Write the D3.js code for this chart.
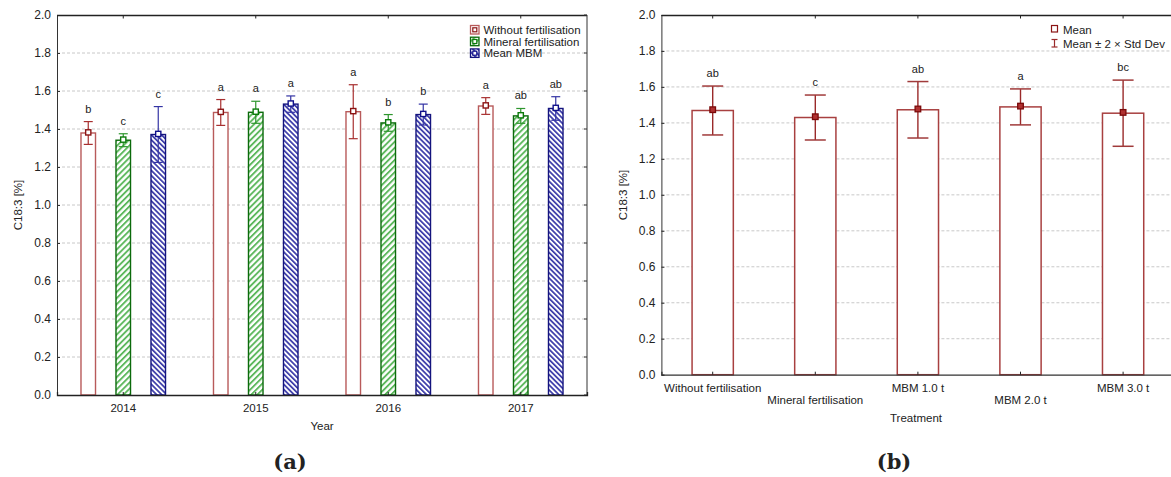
<!DOCTYPE html>
<html>
<head>
<meta charset="utf-8">
<script src="https://cdn.jsdelivr.net/npm/d3@7"></script>
<style>
  html, body { margin: 0; padding: 0; background: #fff; }
  svg { display: block; }
  text { font-family: "Liberation Sans", Arial, sans-serif; fill: #222; }
</style>
</head>
<body>
<svg id="chart" width="1171" height="477"></svg>
<script>
// ---------- Data (panel a) ----------
const years = ["2014", "2015", "2016", "2017"];
const seriesNames = ["Without fertilisation", "Mineral fertilisation", "Mean MBM"];
const meanWithout = [1.379, 1.487, 1.491, 1.521];
const errWithout  = [0.060, 0.068, 0.142, 0.044];
const meanMineral = [1.341, 1.488, 1.432, 1.469];
const errMineral  = [0.034, 0.058, 0.044, 0.039];
const meanMBM     = [1.371, 1.531, 1.476, 1.508];
const errMBM      = [0.147, 0.043, 0.055, 0.062];
const lettersWithout = ["b", "a", "a", "a"];
const lettersMineral = ["c", "a", "b", "ab"];
const lettersMBM     = ["c", "a", "b", "ab"];

// ---------- Data (panel b) ----------
const treatments = ["Without fertilisation", "Mineral fertilisation", "MBM 1.0 t", "MBM 2.0 t", "MBM 3.0 t"];
const treatMeans = [1.469, 1.430, 1.473, 1.489, 1.454];
const treatTwoSD = [0.136, 0.125, 0.157, 0.100, 0.184];
const treatLetters = ["ab", "c", "ab", "a", "bc"];

const yTicks = [0, 0.2, 0.4, 0.6, 0.8, 1.0, 1.2, 1.4, 1.6, 1.8, 2.0];

const svg = d3.select("#chart");
const defs = svg.append("defs");

// hatch patterns
function hatch(id, angle, period, stripe, color) {
  const p = defs.append("pattern")
    .attr("id", id).attr("patternUnits", "userSpaceOnUse")
    .attr("width", period).attr("height", period)
    .attr("patternTransform", `rotate(${angle})`);
  p.append("rect").attr("width", period).attr("height", period).attr("fill", "#fff");
  p.append("rect").attr("width", stripe).attr("height", period).attr("fill", color);
}
hatch("hGreen", 45, 4.3, 1.9, "#5db85d");
hatch("hBlue", -45, 3.6, 1.7, "#3a3aa8");

const seriesStyle = [
  { fill: "#fff", stroke: "#b85a5a", dark: "#8b1414", err: "#a83030" },
  { fill: "url(#hGreen)", stroke: "#0b6a0b", dark: "#0b7a0b", err: "#2e962e" },
  { fill: "url(#hBlue)", stroke: "#14147e", dark: "#10108a", err: "#3434a4" }
];

const gridColor = "#c8c8c8";
const axisColor = "#333";

function frame(g, x0, x1, y, showRight) {
  // gridlines
  g.append("g").selectAll("line").data(yTicks.filter(t => t > 0 && t < 2)).join("line")
    .attr("x1", x0).attr("x2", x1)
    .attr("y1", d => y(d)).attr("y2", d => y(d))
    .attr("stroke", gridColor).attr("stroke-width", 1).attr("stroke-dasharray", "3,2");
}

function axesDraw(g, x0, x1, y, x, cats, showRight) {
  const yTop = y(2), yBot = y(0);
  // y axis
  const ya = d3.axisLeft(y).tickValues(yTicks).tickFormat(d3.format(".1f")).tickSize(-3).tickPadding(6);
  const gy = g.append("g").attr("transform", `translate(${x0},0)`).call(ya);
  gy.select(".domain").attr("stroke", axisColor);
  gy.selectAll(".tick line").attr("stroke", axisColor);
  gy.selectAll("text").style("font-size", "12px").attr("fill", "#222");
  // top line
  g.append("line").attr("x1", x0).attr("x2", x1).attr("y1", yTop + 0.5).attr("y2", yTop + 0.5)
    .attr("stroke", "#222").attr("stroke-width", 1.3);
  // top ticks
  g.append("g").selectAll("line").data(cats).join("line")
    .attr("x1", d => x(d) + x.bandwidth() / 2).attr("x2", d => x(d) + x.bandwidth() / 2)
    .attr("y1", yTop).attr("y2", yTop + 3.5).attr("stroke", "#222");
  if (showRight) {
    g.append("line").attr("x1", x1).attr("x2", x1).attr("y1", yTop).attr("y2", yBot)
      .attr("stroke", axisColor);
    g.append("g").selectAll("line").data(yTicks).join("line")
      .attr("x1", x1 - 3).attr("x2", x1).attr("y1", d => y(d)).attr("y2", d => y(d))
      .attr("stroke", axisColor);
  }
}

// ================= Panel (a) =================
const xA = d3.scaleBand().domain(years).range([57, 587]).padding(0);
const yA = d3.scaleLinear().domain([0, 2]).range([395, 15]);
const sub = d3.scaleBand().domain(seriesNames).range([-52.5, 52.5]).padding(0);
const barWA = sub.bandwidth() * 0.415;

const gA = svg.append("g");
frame(gA, 57, 587, yA);

const seriesData = [
  { mean: meanWithout, err: errWithout, letters: lettersWithout },
  { mean: meanMineral, err: errMineral, letters: lettersMineral },
  { mean: meanMBM, err: errMBM, letters: lettersMBM }
];

seriesData.forEach((s, si) => {
  const st = seriesStyle[si];
  const cx = i => xA(years[i]) + xA.bandwidth() / 2 + sub(seriesNames[si]) + sub.bandwidth() / 2;
  const gs = gA.append("g");
  gs.selectAll("rect.bar").data(years).join("rect").attr("class", "bar")
    .attr("x", (d, i) => cx(i) - barWA / 2)
    .attr("y", (d, i) => yA(s.mean[i]))
    .attr("width", barWA)
    .attr("height", (d, i) => yA(0) - yA(s.mean[i]))
    .attr("fill", st.fill).attr("stroke", st.stroke).attr("stroke-width", 1.4);
  // error bars
  gs.selectAll("line.ev").data(years).join("line").attr("class", "ev")
    .attr("x1", (d, i) => cx(i)).attr("x2", (d, i) => cx(i))
    .attr("y1", (d, i) => yA(s.mean[i] + s.err[i])).attr("y2", (d, i) => yA(s.mean[i] - s.err[i]))
    .attr("stroke", st.err).attr("stroke-width", 1.2);
  [1, -1].forEach(sign => {
    gs.selectAll("line.cap" + sign).data(years).join("line")
      .attr("x1", (d, i) => cx(i) - 4.5).attr("x2", (d, i) => cx(i) + 4.5)
      .attr("y1", (d, i) => yA(s.mean[i] + sign * s.err[i])).attr("y2", (d, i) => yA(s.mean[i] + sign * s.err[i]))
      .attr("stroke", st.err).attr("stroke-width", 1.2);
  });
  // markers
  gs.selectAll("rect.mk").data(years).join("rect").attr("class", "mk")
    .attr("x", (d, i) => cx(i) - 2.6).attr("y", (d, i) => yA(s.mean[i]) - 3.2)
    .attr("width", 5.2).attr("height", 5.2)
    .attr("fill", "#fff").attr("stroke", st.dark).attr("stroke-width", 1.4);
  // letters
  gs.selectAll("text.lt").data(years).join("text").attr("class", "lt")
    .attr("x", (d, i) => cx(i)).attr("y", (d, i) => yA(s.mean[i] + s.err[i]) - 9)
    .attr("text-anchor", "middle").style("font-size", "11px")
    .text((d, i) => s.letters[i]);
});

axesDraw(gA, 57, 587, yA, xA, years, true);
// bottom axis (a)
{
  const xa = d3.axisBottom(xA).tickSize(-3).tickPadding(9);
  const gx = gA.append("g").attr("transform", `translate(0,${yA(0)})`).call(xa);
  gx.select(".domain").attr("stroke", "#222").attr("stroke-width", 1.3);
  gx.selectAll(".tick line").attr("stroke", "#222");
  gx.selectAll("text").style("font-size", "11.5px").attr("fill", "#222");
}
gA.append("text").attr("x", 322).attr("y", 430).attr("text-anchor", "middle")
  .style("font-size", "11.5px").text("Year");
gA.append("text").attr("transform", "translate(22,205) rotate(-90)").attr("text-anchor", "middle")
  .style("font-size", "11.5px").text("C18:3 [%]");

// legend (a)
seriesNames.forEach((n, i) => {
  const st = seriesStyle[i];
  const yy = 30 + i * 11.7;
  gA.append("rect").attr("x", 470.5).attr("y", yy - 4.5).attr("width", 8.5).attr("height", 8.5)
    .attr("fill", st.fill).attr("stroke", st.stroke).attr("stroke-width", 1.3);
  gA.append("rect").attr("x", 472.8).attr("y", yy - 2.2).attr("width", 4).attr("height", 4)
    .attr("fill", "#fff").attr("stroke", st.dark).attr("stroke-width", 1.2);
  gA.append("text").attr("x", 483.5).attr("y", yy + 4).style("font-size", "11.5px").text(n);
});

svg.append("text").attr("x", 290).attr("y", 469).attr("text-anchor", "middle")
  .style("font-family", "'DejaVu Serif', serif").style("font-weight", "bold").style("font-size", "21px")
  .text("(a)");

// ================= Panel (b) =================
const xB = d3.scaleBand().domain(treatments).range([661.4, 1174.4]).padding(0);
const yB = d3.scaleLinear().domain([0, 2]).range([374.7, 15]);
const barWB = xB.bandwidth() * 0.402;
const gB = svg.append("g");
frame(gB, 661.4, 1174.4, yB);

const cxB = d => xB(d) + xB.bandwidth() / 2;
gB.selectAll("rect.bar").data(treatments).join("rect").attr("class", "bar")
  .attr("x", d => cxB(d) - barWB / 2)
  .attr("y", (d, i) => yB(treatMeans[i]))
  .attr("width", barWB)
  .attr("height", (d, i) => yB(0) - yB(treatMeans[i]))
  .attr("fill", "#fff").attr("stroke", "#a84040").attr("stroke-width", 1.5);
gB.selectAll("line.ev").data(treatments).join("line").attr("class", "ev")
  .attr("x1", cxB).attr("x2", cxB)
  .attr("y1", (d, i) => yB(treatMeans[i] + treatTwoSD[i])).attr("y2", (d, i) => yB(treatMeans[i] - treatTwoSD[i]))
  .attr("stroke", "#9a2a2a").attr("stroke-width", 1.4);
[1, -1].forEach(sign => {
  gB.selectAll("line.cap" + sign).data(treatments).join("line")
    .attr("x1", d => cxB(d) - 10.5).attr("x2", d => cxB(d) + 10.5)
    .attr("y1", (d, i) => yB(treatMeans[i] + sign * treatTwoSD[i]))
    .attr("y2", (d, i) => yB(treatMeans[i] + sign * treatTwoSD[i]))
    .attr("stroke", "#a03a3a").attr("stroke-width", 1.5);
});
gB.selectAll("rect.mk").data(treatments).join("rect").attr("class", "mk")
  .attr("x", d => cxB(d) - 2.8).attr("y", (d, i) => yB(treatMeans[i]) - 3.6)
  .attr("width", 5.6).attr("height", 5.6)
  .attr("fill", "#b03030").attr("stroke", "#7a0a0a").attr("stroke-width", 1.3);
gB.selectAll("text.lt").data(treatments).join("text").attr("class", "lt")
  .attr("x", cxB).attr("y", (d, i) => yB(treatMeans[i] + treatTwoSD[i]) - 9)
  .attr("text-anchor", "middle").style("font-size", "11px")
  .text((d, i) => treatLetters[i]);

axesDraw(gB, 661.4, 1174.4, yB, xB, treatments, false);
{
  const xa = d3.axisBottom(xB).tickSize(-3).tickPadding(9);
  const gx = gB.append("g").attr("transform", `translate(0,${yB(0)})`).call(xa);
  gx.select(".domain").attr("stroke", "#333").attr("stroke-width", 1.3);
  gx.selectAll(".tick line").attr("stroke", "#222");
  gx.selectAll("text").style("font-size", "11.5px").attr("fill", "#222")
    .attr("dy", (d, i) => (i % 2 === 1 ? "1.75em" : "0.71em"));
}
gB.append("text").attr("x", 916).attr("y", 421.8).attr("text-anchor", "middle")
  .style("font-size", "11.5px").text("Treatment");
gB.append("text").attr("transform", "translate(626.5,195) rotate(-90)").attr("text-anchor", "middle")
  .style("font-size", "11.5px").text("C18:3 [%]");

// legend (b)
gB.append("rect").attr("x", 1051.5).attr("y", 25.5).attr("width", 6).attr("height", 6.5)
  .attr("fill", "#fff").attr("stroke", "#8b1414").attr("stroke-width", 1.2);
gB.append("text").attr("x", 1063).attr("y", 34).style("font-size", "11.5px").text("Mean");
{
  const lx = 1054.5, ly1 = 39.5, ly2 = 47;
  gB.append("line").attr("x1", lx).attr("x2", lx).attr("y1", ly1).attr("y2", ly2).attr("stroke", "#9a2a2a").attr("stroke-width", 1.2);
  gB.append("line").attr("x1", lx - 3).attr("x2", lx + 3).attr("y1", ly1).attr("y2", ly1).attr("stroke", "#9a2a2a").attr("stroke-width", 1.2);
  gB.append("line").attr("x1", lx - 3).attr("x2", lx + 3).attr("y1", ly2).attr("y2", ly2).attr("stroke", "#9a2a2a").attr("stroke-width", 1.2);
}
gB.append("text").attr("x", 1063).attr("y", 47.5).style("font-size", "11.5px").text("Mean ± 2 × Std Dev");

svg.append("text").attr("x", 894).attr("y", 469).attr("text-anchor", "middle")
  .style("font-family", "'DejaVu Serif', serif").style("font-weight", "bold").style("font-size", "21px")
  .text("(b)");
</script>
</body>
</html>
